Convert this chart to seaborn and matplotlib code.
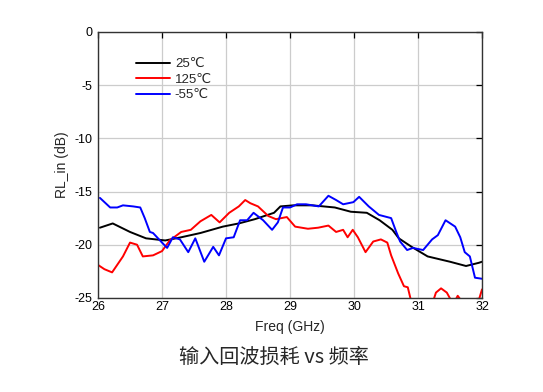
import numpy as np
import pandas as pd
import matplotlib
matplotlib.use("Agg")
import matplotlib.pyplot as plt
import seaborn as sns

# 25°C (black)
f_25 = [26.03, 26.23, 26.5, 26.75, 26.9, 27.05, 27.3, 27.6, 27.95, 28.2, 28.45, 28.75, 28.85, 29.05,
        29.35, 29.7, 29.95, 30.2, 30.4, 30.6, 30.7, 30.9, 31.15, 31.5, 31.75, 31.95, 32.0]
v_25 = [-18.4, -18.0, -18.8, -19.4, -19.5, -19.6, -19.3, -18.9, -18.3, -18.0, -17.6, -17.0, -16.4, -16.3,
        -16.3, -16.5, -16.9, -17.0, -17.7, -18.6, -19.4, -20.2, -21.1, -21.6, -22.0, -21.7, -21.6]

# 125°C (red)
f_125 = [26.0, 26.1, 26.22, 26.39, 26.5, 26.61, 26.7, 26.86, 27.0, 27.12, 27.3, 27.45, 27.6, 27.77,
         27.9, 28.05, 28.2, 28.3, 28.38, 28.5, 28.66, 28.78, 28.95, 29.08, 29.28, 29.44, 29.6, 29.72,
         29.83, 29.9, 29.98, 30.06, 30.18, 30.3, 30.42, 30.52, 30.58, 30.69, 30.78, 30.84, 30.9, 31.0,
         31.1, 31.22, 31.28, 31.36, 31.45, 31.55, 31.62, 31.72, 31.85, 31.95, 32.0]
v_125 = [-21.9, -22.3, -22.6, -21.1, -19.8, -20.0, -21.1, -21.0, -20.6, -19.6, -18.8, -18.6, -17.8, -17.2,
         -17.9, -17.0, -16.4, -15.8, -16.1, -16.4, -17.3, -17.6, -17.4, -18.3, -18.5, -18.4, -18.2, -18.8,
         -18.6, -19.3, -18.6, -19.3, -20.7, -19.7, -19.5, -19.8, -21.0, -22.7, -23.9, -24.0, -25.5, -26.3,
         -26.0, -25.6, -24.5, -24.1, -24.5, -25.6, -24.8, -25.6, -25.4, -25.2, -24.2]

# -55°C (blue)
f_m55 = [26.03, 26.19, 26.3, 26.39, 26.55, 26.66, 26.73, 26.81, 26.86, 27.0, 27.08, 27.17, 27.28, 27.41,
         27.52, 27.66, 27.8, 27.89, 28.0, 28.12, 28.22, 28.33, 28.43, 28.58, 28.72, 28.81, 28.89, 29.0,
         29.11, 29.25, 29.45, 29.6, 29.72, 29.83, 29.99, 30.08, 30.23, 30.39, 30.58, 30.66, 30.72, 30.83,
         30.92, 31.08, 31.22, 31.31, 31.43, 31.58, 31.66, 31.73, 31.81, 31.89, 32.0]
v_m55 = [-15.6, -16.5, -16.5, -16.3, -16.4, -16.5, -17.5, -18.8, -18.9, -19.8, -20.3, -19.3, -19.5, -20.7,
         -19.4, -21.6, -20.2, -21.0, -19.4, -19.3, -17.7, -17.7, -17.0, -17.7, -18.6, -17.9, -16.5, -16.5,
         -16.2, -16.2, -16.4, -15.4, -15.8, -16.2, -16.0, -15.5, -16.4, -17.2, -17.5, -18.8, -19.7, -20.5,
         -20.3, -20.5, -19.5, -19.1, -17.7, -18.3, -19.3, -20.7, -21.1, -23.1, -23.2]

labels = ["25℃", "125℃", "-55℃"]
colors = ["black", "#ff0000", "#0000ff"]

frames = []
for lab, f, v in zip(labels, [f_25, f_125, f_m55], [v_25, v_125, v_m55]):
    frames.append(pd.DataFrame({"Freq": f, "RL": v, "Temp": lab}))
df = pd.concat(frames, ignore_index=True)

sns.set_style("white")
plt.rcParams['font.family'] = ['Liberation Sans', 'DejaVu Sans']
plt.rcParams['axes.unicode_minus'] = False

fig = plt.figure(figsize=(5.43, 3.92), dpi=100)
ax = fig.add_axes([0.1805, 0.240, 0.7072, 0.6786])

sns.lineplot(data=df, x="Freq", y="RL", hue="Temp", hue_order=labels,
             palette=dict(zip(labels, colors)), ax=ax, linewidth=1.4, sort=False,
             estimator=None)

ax.set_xlim(26, 32)
ax.set_ylim(-25, 0)
ax.set_xticks([26, 27, 28, 29, 30, 31, 32])
ax.set_yticks([0, -5, -10, -15, -20, -25])
ax.grid(True, color="#cccccc", linewidth=0.9)
ax.set_axisbelow(True)
for s in ax.spines.values():
    s.set_color("#333333")
    s.set_linewidth(1.0)
ax.tick_params(direction="in", length=4, width=0.9, top=True, right=True,
               labelsize=9, colors="black")
ax.tick_params(axis="x", pad=2)
ax.tick_params(axis="y", pad=4)
ax.set_xlabel("Freq (GHz)", fontsize=10, labelpad=5)
ax.set_ylabel("RL_in (dB)", fontsize=10, labelpad=4)

leg = ax.legend(loc="upper left", bbox_to_anchor=(0.085, 0.922), frameon=False,
                fontsize=9.5, handlelength=2.6, handletextpad=0.35, labelspacing=0.25,
                borderaxespad=0)
for line in leg.get_lines():
    line.set_linewidth(1.4)

fig.text(0.505, 0.088, "输入回波损耗 vs 频率", ha="center", va="center", fontsize=14.5,
         family=['Noto Sans CJK SC', 'DejaVu Sans'])

fig.savefig("out.png", dpi=100)
